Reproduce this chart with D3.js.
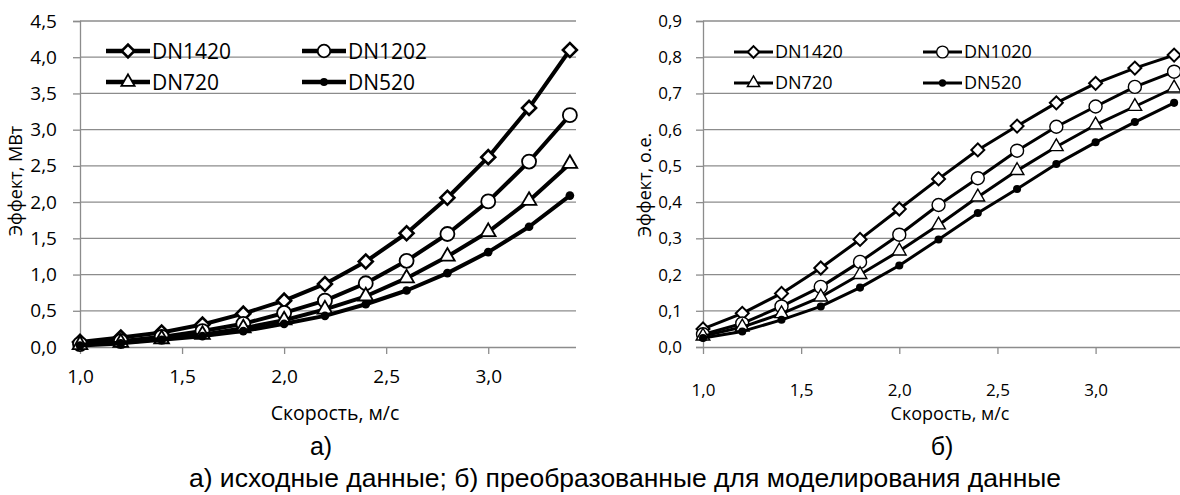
<!DOCTYPE html>
<html>
<head>
<meta charset="utf-8">
<script src="https://cdn.jsdelivr.net/npm/d3@7"></script>
<style>
  body { margin: 0; background: #fff; }
  svg { display: block; font-family: "Open Sans", sans-serif; }
</style>
</head>
<body>
<svg id="chart" width="1180" height="495"></svg>
<script>
// speed values, m/s
const speed = [1.0, 1.2, 1.4, 1.6, 1.8, 2.0, 2.2, 2.4, 2.6, 2.8, 3.0, 3.2, 3.4];

// panel a) - power, MW
const mwNames = ["DN1420", "DN1202", "DN720", "DN520"];
const mwDN1420 = [0.07, 0.13, 0.20, 0.31, 0.46, 0.64, 0.87, 1.18, 1.57, 2.06, 2.62, 3.30, 4.10];
const mwDN1202 = [0.04, 0.08, 0.14, 0.22, 0.32, 0.47, 0.64, 0.88, 1.19, 1.56, 2.01, 2.56, 3.20];
const mwDN720  = [0.03, 0.06, 0.11, 0.17, 0.26, 0.37, 0.52, 0.70, 0.95, 1.25, 1.59, 2.02, 2.53];
const mwDN520  = [0.02, 0.05, 0.10, 0.15, 0.22, 0.32, 0.43, 0.59, 0.78, 1.02, 1.31, 1.66, 2.09];

// panel б) - relative units
const relNames = ["DN1420", "DN1020", "DN720", "DN520"];
const relDN1420 = [0.050, 0.093, 0.148, 0.218, 0.297, 0.381, 0.464, 0.544, 0.610, 0.674, 0.728, 0.770, 0.806];
const relDN1020 = [0.035, 0.065, 0.112, 0.166, 0.235, 0.310, 0.392, 0.466, 0.542, 0.608, 0.664, 0.718, 0.760];
const relDN720  = [0.030, 0.055, 0.092, 0.138, 0.200, 0.265, 0.337, 0.414, 0.487, 0.553, 0.613, 0.664, 0.715];
const relDN520  = [0.025, 0.043, 0.075, 0.112, 0.164, 0.225, 0.297, 0.370, 0.436, 0.505, 0.565, 0.621, 0.674];

const xTicks = [1.0, 1.5, 2.0, 2.5, 3.0];
const mwTicks = [0, 0.5, 1, 1.5, 2, 2.5, 3, 3.5, 4, 4.5];
const relTicks = [0, 0.1, 0.2, 0.3, 0.4, 0.5, 0.6, 0.7, 0.8, 0.9];
const markerTypes = ["diamond", "circle", "triangle", "dot"];

const svg = d3.select("#chart");
const comma = d => d3.format(".1f")(d).replace(".", ",");

function marker(sel, type, s, sw) {
  // s = half size of the marker
  if (type === "diamond") {
    sel.append("path").attr("d", d3.symbol(d3.symbolSquare, 2 * s * s)())
      .attr("transform", "rotate(45)")
      .attr("fill", "#fff").attr("stroke", "#000").attr("stroke-width", sw);
  } else if (type === "circle") {
    sel.append("circle").attr("r", s).attr("fill", "#fff").attr("stroke", "#000").attr("stroke-width", sw * 0.7);
  } else if (type === "triangle") {
    sel.append("path").attr("d", d3.symbol(d3.symbolTriangle, s * s * 1.9)())
      .attr("fill", "#fff").attr("stroke", "#000").attr("stroke-width", sw * 0.7);
  } else {
    sel.append("circle").attr("r", s * 0.62).attr("fill", "#000");
  }
}

function panel(o) {
  const x = d3.scaleLinear().domain([1.0, 3.43]).range([o.left, o.right]);
  const y = d3.scaleLinear().domain([0, o.ymax]).range([347, 21]);
  const g = svg.append("g");

  // horizontal grid
  g.append("g").selectAll("line").data(o.yTicks.slice(1)).join("line")
    .attr("x1", o.left).attr("x2", o.right)
    .attr("y1", d => y(d)).attr("y2", d => y(d))
    .attr("stroke", "#8c8c8c").attr("stroke-width", 1.3);

  const ya = g.append("g").attr("transform", `translate(${o.left},0)`)
    .call(d3.axisLeft(y).tickValues(o.yTicks).tickFormat(comma).tickSize(7).tickPadding(o.ypad));
  const xa = g.append("g").attr("transform", "translate(0,347)")
    .call(d3.axisBottom(x).tickValues(xTicks).tickFormat(comma).tickSize(7).tickPadding(o.xpad));
  [ya, xa].forEach(a => {
    a.attr("font-family", null).attr("font-size", o.tickFont);
    a.select(".domain").attr("stroke", "#8c8c8c").attr("stroke-width", 1.3);
    a.selectAll(".tick line").attr("stroke", "#8c8c8c").attr("stroke-width", 1.3);
    a.selectAll("text").attr("fill", "#000");
  });
  xa.select(".domain").attr("d", `M${o.left},0.5H${o.right}`);

  // lines and markers
  o.series.forEach((vals, i) => {
    const pts = speed.map((s, k) => [s, vals[k]]);
    g.append("path").datum(pts)
      .attr("d", d3.line().x(d => x(d[0])).y(d => y(d[1])))
      .attr("fill", "none").attr("stroke", "#000").attr("stroke-width", o.lw).attr("stroke-linejoin", "round");
    pts.forEach(p => {
      const m = g.append("g").attr("transform", `translate(${x(p[0])},${y(p[1])})`);
      marker(m, markerTypes[i], o.ms, o.msw);
    });
  });

  // legend
  o.names.forEach((name, i) => {
    const col = i % 2, row = Math.floor(i / 2);
    const lx = o.legX[col], ly = o.legY[row];
    const lg = g.append("g");
    lg.append("line").attr("x1", lx).attr("x2", lx + o.legW).attr("y1", ly).attr("y2", ly)
      .attr("stroke", "#000").attr("stroke-width", o.llw);
    marker(lg.append("g").attr("transform", `translate(${lx + o.legW / 2},${ly})`), markerTypes[i], o.ms * 0.9, o.msw);
    lg.append("text").attr("x", lx + o.legW + 2).attr("y", ly).attr("dy", "0.36em")
      .attr("font-size", o.legFont).text(name);
  });

  // axis titles
  g.append("text").attr("x", o.xTitleX).attr("y", o.xTitleY).attr("text-anchor", "middle")
    .attr("font-size", o.titleFont).text("Скорость, м/с");
  g.append("text").attr("transform", `translate(${o.yTitleX},${o.yTitleY}) rotate(-90)`)
    .attr("text-anchor", "middle").attr("font-size", o.yTitleFont).text(o.yTitle);
  g.append("text").attr("x", o.subX).attr("y", 455).attr("text-anchor", "middle")
    .attr("font-family", "Liberation Sans, Arial, sans-serif").attr("font-size", 25).text(o.sub);
}

panel({
  left: 80, right: 576, ymax: 4.5, yTicks: mwTicks, ypad: 16, xpad: 16,
  tickFont: 19, legFont: 21, titleFont: 19.5, yTitleFont: 18,
  series: [mwDN1420, mwDN1202, mwDN720, mwDN520], names: mwNames,
  lw: 4, llw: 4.5, ms: 7, msw: 2.6,
  legX: [106, 302], legY: [51, 82], legW: 44,
  xTitleX: 335, xTitleY: 420, yTitleX: 22, yTitleY: 181, yTitle: "Эффект, МВт",
  subX: 321, sub: "а)"
});

panel({
  left: 703, right: 1180, ymax: 0.9, yTicks: relTicks, ypad: 14, xpad: 30,
  tickFont: 17, legFont: 18, titleFont: 18, yTitleFont: 18,
  series: [relDN1420, relDN1020, relDN720, relDN520], names: relNames,
  lw: 3, llw: 3, ms: 6.5, msw: 2,
  legX: [734, 923], legY: [52, 83], legW: 39,
  xTitleX: 950, xTitleY: 420, yTitleX: 651, yTitleY: 185, yTitle: "Эффект, о.е.",
  subX: 942, sub: "б)"
});

svg.append("text").attr("x", 625).attr("y", 487).attr("text-anchor", "middle")
  .attr("font-family", "Liberation Sans, Arial, sans-serif").attr("font-size", 26.5)
  .text("а) исходные данные; б) преобразованные для моделирования данные");
</script>
</body>
</html>
